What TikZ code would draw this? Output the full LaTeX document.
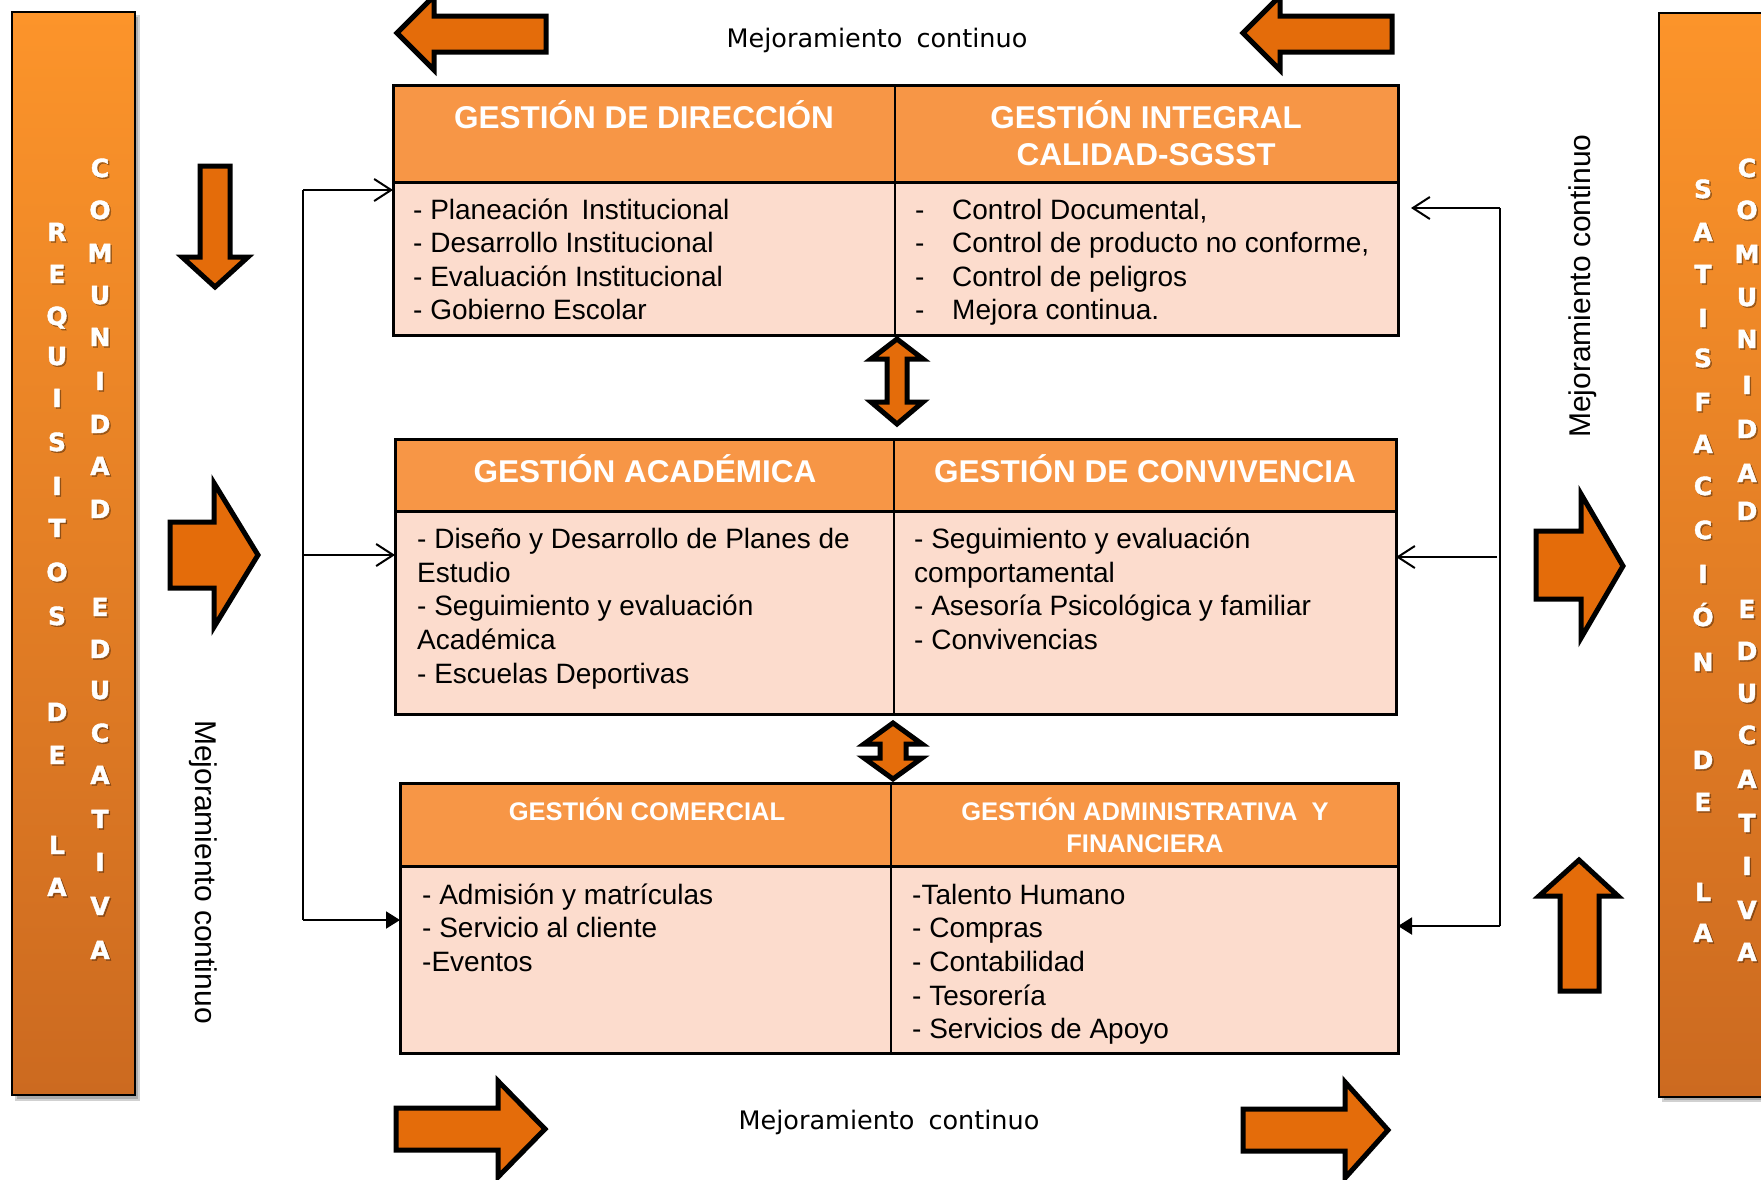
\documentclass[tikz,border=0pt]{standalone}
\usepackage{fontspec}
\setmainfont{Liberation Sans}
\newfontfamily\dejavu{DejaVu Sans}
\newfontfamily\heavyfont{DejaVu Sans Bold}[FakeBold=1.6]
\usetikzlibrary{arrows.meta,calc}
\definecolor{hdr}{HTML}{F79646}
\definecolor{cellbg}{RGB}{252,220,205}
\definecolor{arrfill}{HTML}{E46C0A}
\definecolor{bartop}{RGB}{252,148,42}
\definecolor{barbot}{RGB}{204,106,32}
\begin{document}
\begin{tikzpicture}[x=1pt,y=-1pt,
 hcell/.style={draw=black, line width=2pt, fill=hdr, anchor=north west, inner sep=0pt, outer sep=0pt},
 bcell/.style={draw=black, line width=2pt, fill=cellbg, anchor=north west, inner sep=0pt, outer sep=0pt},
 htext/.style={text=white, font=\fontsize{31.5}{38}\selectfont\bfseries, anchor=base, inner sep=0pt},
 htexts/.style={text=white, font=\fontsize{25.5}{31}\selectfont\bfseries, anchor=base, inner sep=0pt},
 btext/.style={font=\fontsize{28}{33}\selectfont, anchor=base west, inner sep=0pt},
 bigarrow/.style={draw=black, line width=5pt, fill=arrfill, line join=miter},
 conn/.style={line width=2pt, draw=black},
 openhead/.style={conn, -{Straight Barb[length=17pt,width=22pt,line width=2pt]}},
 fullhead/.style={conn, -{Triangle[length=14pt,width=17pt]}},
 letter/.style={text=white, font=\heavyfont\fontsize{25}{25}\selectfont, text height=18pt, text depth=0pt, inner sep=0pt},
 lshadow/.style={letter, text=black, opacity=0.3},
 sidetext/.style={font=\fontsize{30}{30}\selectfont, inner sep=0pt},
 mtext/.style={font=\dejavu\fontsize{25.5}{25.5}\selectfont, anchor=base, inner sep=0pt}
]
\useasboundingbox (0,0) rectangle (1761,1179);

% ---------- side bars ----------
\fill[black,opacity=0.18] (15,15) rectangle (140,1101);
\fill[black,opacity=0.18] (17,17) rectangle (138,1099);
\shade[top color=bartop,bottom color=barbot] (12,12) rectangle (135,1095);
\draw[line width=2.5pt] (12,12) rectangle (135,1095);

\fill[black,opacity=0.18] (1662,16) rectangle (1790,1102);
\fill[black,opacity=0.18] (1664,18) rectangle (1790,1100);
\shade[top color=bartop,bottom color=barbot] (1659,13) rectangle (1785,1097);
\draw[line width=2.5pt] (1659,13) rectangle (1785,1097);

% letters
\foreach \l/\y [count=\i] in {C/168,O/210,M/253,U/295,N/337,I/381,D/424,A/466,D/509,E/607,D/649,U/690,C/733,A/775,T/819,I/862,V/906,A/950}{
  \node[lshadow] (lcs\i) at (101.5,{\y+1.5}) {\l};
  \node[letter] (lc\i) at (100,\y) {\l};
}
\foreach \l/\y [count=\i] in {R/232,E/274,Q/316,U/356,I/398,S/442,I/486,T/528,O/572,S/616,D/712,E/755,L/845,A/887}{
  \node[lshadow] (lrs\i) at (58.5,{\y+1.5}) {\l};
  \node[letter] (lr\i) at (57,\y) {\l};
}
\foreach \l/\y [count=\i] in {S/189,A/232,T/274,I/318,S/358,F/402,A/444,C/486,C/530,I/574,Ó/617,N/662,D/760,E/802,L/892,A/933}{
  \node[lshadow] (rss\i) at (1704.5,{\y+1.5}) {\l};
  \node[letter] (rs\i) at (1703,\y) {\l};
}
\foreach \l/\y [count=\i] in {C/168,O/210,M/254,U/297,N/339,I/385,D/429,A/473,D/511,E/609,D/651,U/693,C/735,A/779,T/823,I/866,V/910,A/952}{
  \node[lshadow] (rcs\i) at (1748.5,{\y+1.5}) {\l};
  \node[letter] (rc\i) at (1747,\y) {\l};
}

% ---------- block arrows ----------
\draw[bigarrow] (200,166) -- (230,166) -- (230,257) -- (248,257) -- (215,287) -- (182,257) -- (200,257) -- cycle;
\draw[bigarrow] (170,522) -- (214,522) -- (214,483) -- (258,555) -- (214,627) -- (214,588) -- (170,588) -- cycle;
\draw[bigarrow] (1536,531) -- (1581,531) -- (1581,494) -- (1623,566) -- (1581,638) -- (1581,599) -- (1536,599) -- cycle;
\draw[bigarrow] (1560,991) -- (1560,896) -- (1539,896) -- (1579,860) -- (1618,896) -- (1599,896) -- (1599,991) -- cycle;
\draw[bigarrow] (546,16) -- (434,16) -- (434,-4) -- (397,33) -- (434,70) -- (434,52) -- (546,52) -- cycle;
\draw[bigarrow] (1392,16) -- (1280,16) -- (1280,-4) -- (1243,33) -- (1280,70) -- (1280,52) -- (1392,52) -- cycle;
\draw[bigarrow] (396,1108) -- (498,1108) -- (498,1081) -- (545,1129) -- (498,1177) -- (498,1150) -- (396,1150) -- cycle;
\draw[bigarrow] (1243,1109) -- (1345,1109) -- (1345,1082) -- (1388,1130) -- (1345,1178) -- (1345,1151) -- (1243,1151) -- cycle;
% double arrows
\draw[bigarrow] (897,339) -- (923,359) -- (907,359) -- (907,402) -- (923,402) -- (897,424) -- (871,402) -- (887,402) -- (887,359) -- (871,359) -- cycle;
\draw[bigarrow] (893,723) -- (922,744) -- (906,744) -- (906,758) -- (922,758) -- (893,779) -- (864,758) -- (880,758) -- (880,744) -- (864,744) -- cycle;

% ---------- labels ----------
\node[mtext] (mt) at (877,47) {Mejoramiento\hspace{0.55em}continuo};
\node[mtext] (mb) at (889,1129) {Mejoramiento\hspace{0.55em}continuo};
\node[sidetext, rotate=-90] (ml) at (203,872) {Mejoramiento continuo};
\node[sidetext, rotate=90] (mr) at (1583,286) {Mejoramiento continuo};

% ---------- box 1 ----------
\node[hcell, minimum width=502pt, minimum height=97pt] (h1a) at (393,85) {};
\node[hcell, minimum width=503pt, minimum height=97pt] (h1b) at (895,85) {};
\node[bcell, minimum width=502pt, minimum height=153pt] (b1a) at (393,182) {};
\node[bcell, minimum width=503pt, minimum height=153pt] (b1b) at (895,182) {};
\draw[line width=3pt] (h1a.north west) rectangle (b1b.south east);
\draw[line width=3pt] (h1a.south west) -- (h1b.south east);

\node[htext] (t1a) at (644,128) {GESTIÓN DE DIRECCIÓN};
\node[htext] (t1b) at (1146,128) {GESTIÓN INTEGRAL};
\node[htext] (t1c) at (1146,165) {CALIDAD-SGSST};

\node[btext] (x1a1) at (413,219) {- Planeación\hspace{5pt} Institucional};
\node[btext] (x1a2) at (413,252) {- Desarrollo Institucional};
\node[btext] (x1a3) at (413,286) {- Evaluación Institucional};
\node[btext] (x1a4) at (413,319) {- Gobierno Escolar};
\node[btext] (x1b1) at (915,219) {\makebox[37pt][l]{-}Control Documental,};
\node[btext] (x1b2) at (915,252) {\makebox[37pt][l]{-}Control de producto no conforme,};
\node[btext] (x1b3) at (915,286) {\makebox[37pt][l]{-}Control de peligros};
\node[btext] (x1b4) at (915,319) {\makebox[37pt][l]{-}Mejora continua.};

% ---------- box 2 ----------
\node[hcell, minimum width=499pt, minimum height=72pt] (h2a) at (395,439) {};
\node[hcell, minimum width=502pt, minimum height=72pt] (h2b) at (894,439) {};
\node[bcell, minimum width=499pt, minimum height=203pt] (b2a) at (395,511) {};
\node[bcell, minimum width=502pt, minimum height=203pt] (b2b) at (894,511) {};
\draw[line width=3pt] (h2a.north west) rectangle (b2b.south east);
\draw[line width=3pt] (h2a.south west) -- (h2b.south east);

\node[htext] (t2a) at (645,482) {GESTIÓN ACADÉMICA};
\node[htext] (t2b) at (1145,482) {GESTIÓN DE CONVIVENCIA};

\node[btext] (x2a1) at (417,548) {- Diseño y Desarrollo de Planes de};
\node[btext] (x2a2) at (417,582) {Estudio};
\node[btext] (x2a3) at (417,615) {- Seguimiento y evaluación};
\node[btext] (x2a4) at (417,649) {Académica};
\node[btext] (x2a5) at (417,683) {- Escuelas Deportivas};
\node[btext] (x2b1) at (914,548) {- Seguimiento y evaluación};
\node[btext] (x2b2) at (914,582) {comportamental};
\node[btext] (x2b3) at (914,615) {- Asesoría Psicológica y familiar};
\node[btext] (x2b4) at (914,649) {- Convivencias};

% ---------- box 3 ----------
\node[hcell, minimum width=491pt, minimum height=83pt] (h3a) at (400,783) {};
\node[hcell, minimum width=507pt, minimum height=83pt] (h3b) at (891,783) {};
\node[bcell, minimum width=491pt, minimum height=187pt] (b3a) at (400,866) {};
\node[bcell, minimum width=507pt, minimum height=187pt] (b3b) at (891,866) {};
\draw[line width=3pt] (h3a.north west) rectangle (b3b.south east);
\draw[line width=3pt] (h3a.south west) -- (h3b.south east);

\node[htexts] (t3a) at (647,820) {GESTIÓN COMERCIAL};
\node[htexts] (t3b) at (1145,820) {GESTIÓN ADMINISTRATIVA\ \ Y};
\node[htexts] (t3c) at (1145,852) {FINANCIERA};

\node[btext] (x3a1) at (422,904) {- Admisión y matrículas};
\node[btext] (x3a2) at (422,937) {- Servicio al cliente};
\node[btext] (x3a3) at (422,971) {-Eventos};
\node[btext] (x3b1) at (912,904) {-Talento Humano};
\node[btext] (x3b2) at (912,937) {- Compras};
\node[btext] (x3b3) at (912,971) {- Contabilidad};
\node[btext] (x3b4) at (912,1005) {- Tesorería};
\node[btext] (x3b5) at (912,1038) {- Servicios de Apoyo};

% ---------- connectors ----------
\coordinate (lt) at (303,190);
\coordinate (lm) at (303,555);
\coordinate (lb) at (303,920);
\draw[conn] (lt) -- (lb);
\draw[openhead] (lt) -- (lt -| b1a.west);
\draw[openhead] (lm) -- (lm -| b2a.west);
\draw[fullhead] (lb) -- (lb -| b3a.west);

\coordinate (rt) at (1500,208);
\coordinate (rm) at (1497,557);
\coordinate (rb) at (1500,926);
\draw[conn] (rt) -- (rb);
\draw[openhead, shorten >=13pt] (rt) -- (rt -| b1b.east);
\draw[openhead] (rm) -- (rm -| b2b.east);
\draw[fullhead] (rb) -- (rb -| b3b.east);
\end{tikzpicture}
\end{document}
